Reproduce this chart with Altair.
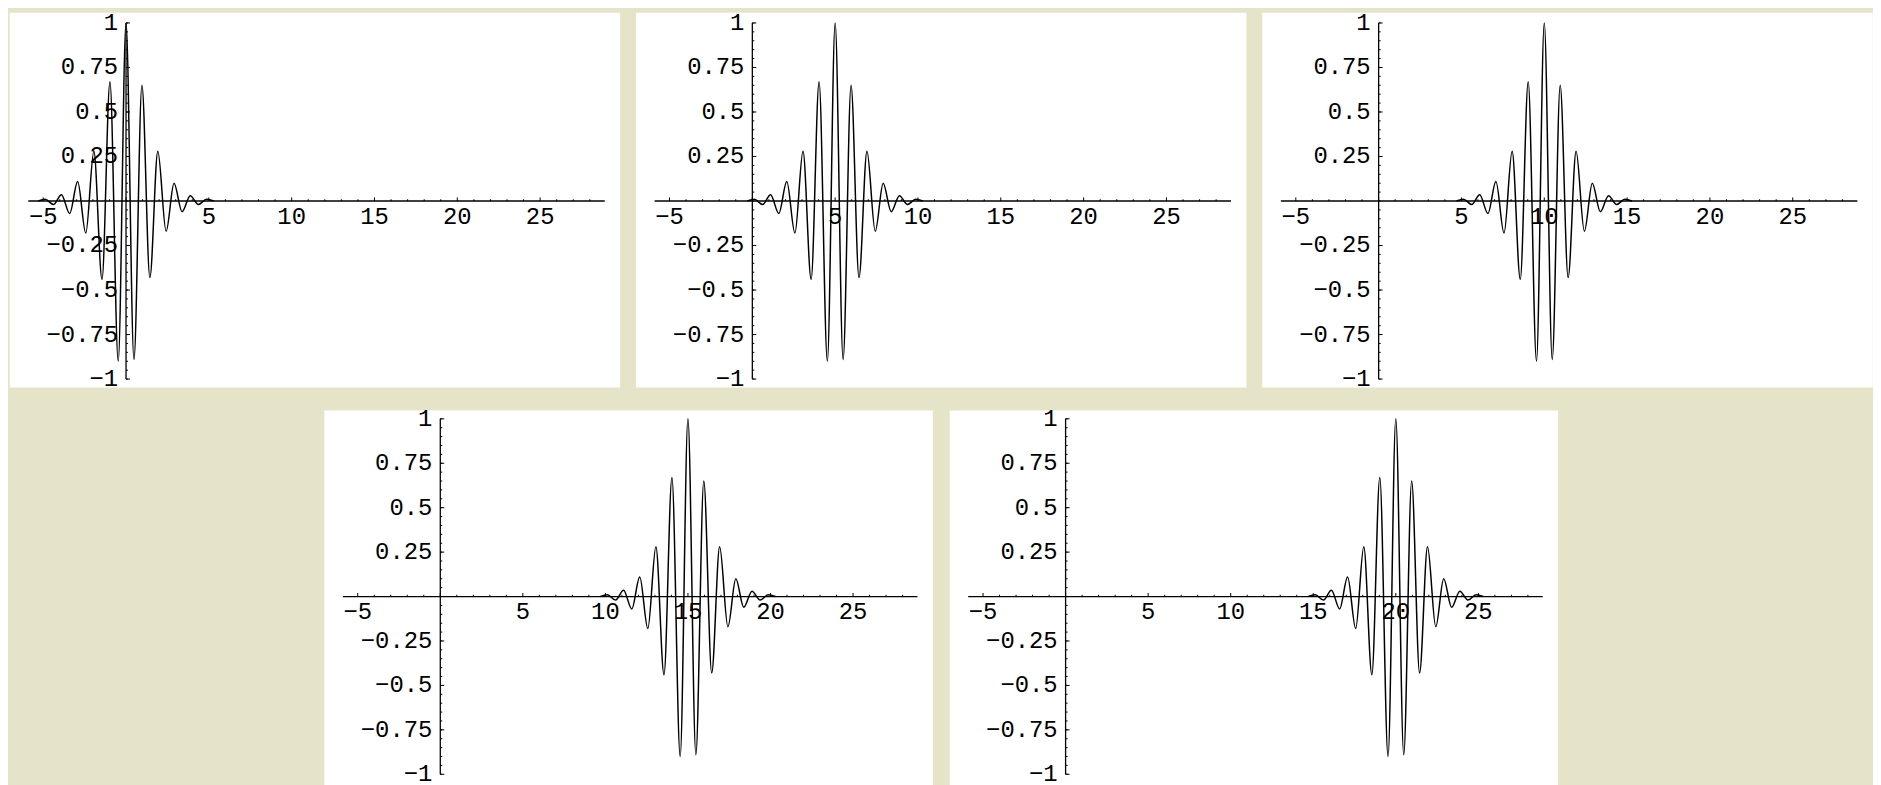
import altair as alt
import pandas as pd

# centres of the five wave packets (one per panel)
centers = [0, 5, 10, 15, 20]

# extrema of one packet, relative to its centre
packet_offsets = [-5.3, -4.88, -4.38, -3.9, -3.4, -2.92, -2.43, -1.94, -1.45, -0.97, -0.47,
                  0.0, 0.48, 0.96, 1.44, 1.92, 2.42, 2.9, 3.38, 3.88, 4.37, 4.86, 5.3]
packet_values = [0.0, 0.01, -0.02, 0.035, -0.07, 0.11, -0.18, 0.28, -0.44, 0.67, -0.90,
                 1.0, -0.89, 0.65, -0.43, 0.28, -0.17, 0.10, -0.06, 0.03, -0.02, 0.01, 0.0]

# axis labels
x_label_values = [-5, 5, 10, 15, 20, 25]
x_label_text = ["\u22125", "5", "10", "15", "20", "25"]
y_label_values = [1, 0.75, 0.5, 0.25, -0.25, -0.5, -0.75, -1]
y_label_text = ["1", "0.75", "0.5", "0.25", "\u22120.25", "\u22120.5", "\u22120.75", "\u22121"]

# ticks
x_major_ticks = [-5, 0, 5, 10, 15, 20, 25]
x_minor_ticks = [v for v in range(-5, 29) if v % 5 != 0]
y_major_ticks = [-1, -0.75, -0.5, -0.25, 0.25, 0.5, 0.75, 1]
y_minor_ticks = [round(-1 + 0.05 * i, 2) for i in range(41)]

# extent of the drawn axis lines
x_axis_span = [-5.9, 28.9]
y_axis_span = [-1, 1]

FONT = "Liberation Mono"
FS = 24
BG = "#e5e4c8"


def panel(center, w, h, ydom):
    xs = alt.Scale(domain=[-7.05, 29.8], nice=False, zero=False)
    ys = alt.Scale(domain=ydom, nice=False, zero=False)

    curve = pd.DataFrame({
        "x": [center + o for o in packet_offsets],
        "y": packet_values,
    })
    xl = pd.DataFrame({"x": x_label_values, "t": x_label_text, "y": [0] * len(x_label_values)})
    yl = pd.DataFrame({"y": y_label_values, "t": y_label_text, "x": [0] * len(y_label_values)})

    xt = pd.DataFrame({
        "x": x_major_ticks + x_minor_ticks,
        "y": [0] * (len(x_major_ticks) + len(x_minor_ticks)),
        "y2": [0.02] * len(x_major_ticks) + [0.01] * len(x_minor_ticks),
    })
    yt = pd.DataFrame({
        "y": y_major_ticks + y_minor_ticks,
        "x": [0] * (len(y_major_ticks) + len(y_minor_ticks)),
        "x2": [0.24] * len(y_major_ticks) + [0.12] * len(y_minor_ticks),
    })
    xa = pd.DataFrame({"x": [x_axis_span[0]], "x2": [x_axis_span[1]], "y": [0]})
    ya = pd.DataFrame({"y": [y_axis_span[0]], "y2": [y_axis_span[1]], "x": [0]})

    X = lambda f="x": alt.X(f"{f}:Q", scale=xs, axis=None)
    Y = lambda f="y": alt.Y(f"{f}:Q", scale=ys, axis=None)

    xlab = alt.Chart(xl).mark_text(font=FONT, fontSize=FS, color="black",
                                   align="center", baseline="middle", dy=16).encode(
        x=X(), y=Y(), text="t:N")
    ylab = alt.Chart(yl).mark_text(font=FONT, fontSize=FS, color="black",
                                   align="right", baseline="middle", dx=-8).encode(
        x=X(), y=Y(), text="t:N")
    xaxis = alt.Chart(xa).mark_rule(color="black", strokeWidth=1.3).encode(
        x=X(), x2="x2:Q", y=Y())
    yaxis = alt.Chart(ya).mark_rule(color="black", strokeWidth=1.3).encode(
        y=Y(), y2="y2:Q", x=X())
    xticks = alt.Chart(xt).mark_rule(color="black", strokeWidth=1).encode(
        x=X(), y=Y(), y2="y2:Q")
    yticks = alt.Chart(yt).mark_rule(color="black", strokeWidth=1).encode(
        y=Y(), x=X(), x2="x2:Q")
    line = alt.Chart(curve).mark_line(color="black", strokeWidth=1.5,
                                      interpolate="monotone", clip=True).encode(
        x=X(), y=Y(), order="x:Q")

    return alt.layer(xlab, ylab, xaxis, yaxis, xticks, yticks, line).properties(
        width=w, height=h)


top = alt.hconcat(
    panel(centers[0], 614, 377, [-1.045, 1.06]),
    panel(centers[1], 614, 377, [-1.045, 1.06]),
    panel(centers[2], 614, 377, [-1.045, 1.06]),
    spacing=14,
)
bottom = alt.hconcat(
    panel(centers[3], 612, 379, [-1.07, 1.05]),
    panel(centers[4], 612, 379, [-1.07, 1.05]),
    spacing=15,
)

chart = alt.vconcat(top, bottom, spacing=14, center=True).properties(
    background=BG, padding=0
).configure_view(fill="white", stroke="transparent")

chart.save("out.html", embed_options={"renderer": "svg", "actions": False})
